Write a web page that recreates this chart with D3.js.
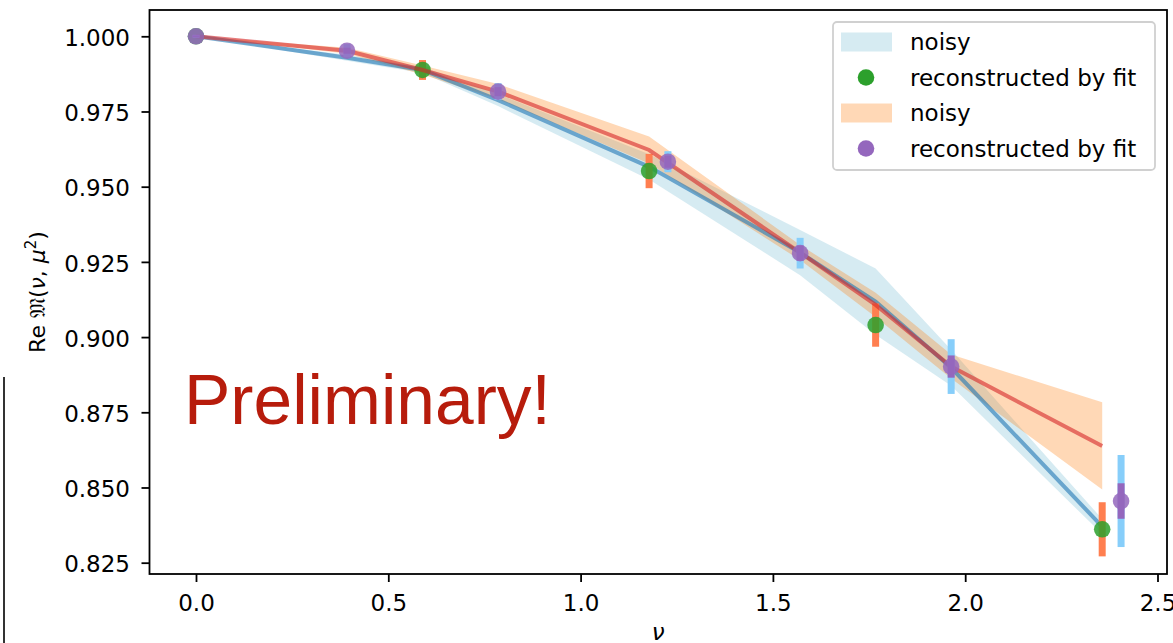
<!DOCTYPE html>
<html>
<head>
<meta charset="utf-8">
<script src="https://cdn.jsdelivr.net/npm/d3@7"></script>
<style>
  body { margin: 0; background: #fff; }
  svg { display: block; }
</style>
</head>
<body>
<svg id="chart" width="1173" height="643"></svg>
<script>
// noisy data: both curves share one nu grid
const nuNoisy = [0, 0.3927, 0.5890, 0.7854, 1.1781, 1.5708, 1.7671, 1.9635, 2.3562];
const noisyA = [1.000, 0.9929, 0.9888, 0.9788, 0.9566, 0.9281, 0.9118, 0.8898, 0.8370];
const noisyAErr = [0, 0.001, 0.001, 0.002, 0.0042, 0.0075, 0.011, 0.006, 0.0025];
const noisyB = [1.000, 0.9952, 0.9888, 0.9816, 0.9622, 0.9281, 0.9107, 0.8902, 0.8638];
const noisyBErr = [0, 0.001, 0.0015, 0.0025, 0.0045, 0.0025, 0.004, 0.004, 0.0145];

// reconstructed by fit
const nuFitA = [0, 0.5890, 1.1781, 1.7671, 2.3562];
const fitA = [1.000, 0.9888, 0.9552, 0.9040, 0.8361];
const fitAErr = [0.0005, 0.0033, 0.0057, 0.0072, 0.0090];

const nuFitB = [0, 0.3927, 0.7854, 1.2270, 1.5708, 1.9635, 2.4053];
const fitB = [1.000, 0.9952, 0.9816, 0.9583, 0.9279, 0.8902, 0.8455];
const fitBErr = [0.0005, 0.0022, 0.0028, 0.0035, 0.0051, 0.0091, 0.0153];
const fitBStat = [0.0003, 0.001, 0.0015, 0.002, 0.0025, 0.0037, 0.0059];

const xTicks = [0.0, 0.5, 1.0, 1.5, 2.0, 2.5];
const yTicks = [0.825, 0.850, 0.875, 0.900, 0.925, 0.950, 0.975, 1.000];
const legendLabels = ["noisy", "reconstructed by fit", "noisy", "reconstructed by fit"];

const svg = d3.select("#chart");
const box = { left: 149.5, right: 1167, top: 10, bottom: 574 };
const font = "'DejaVu Sans', sans-serif";

const x = d3.scaleLinear().domain([-0.1209, 2.5247]).range([box.left, box.right]);
const y = d3.scaleLinear().domain([0.82124, 1.00874]).range([box.bottom, box.top]);

const zip = (xs, ys, es) => xs.map((v, i) => ({ x: v, y: ys[i], e: es ? es[i] : 0 }));

const band = d3.area()
  .x(d => x(d.x))
  .y0(d => y(d.y - d.e))
  .y1(d => y(d.y + d.e));
const line = d3.line().x(d => x(d.x)).y(d => y(d.y));

const plot = svg.append("g");

// bands sit under every line
plot.append("path").datum(zip(nuNoisy, noisyA, noisyAErr))
  .attr("d", band).attr("fill", "#add8e6").attr("fill-opacity", 0.5);
plot.append("path").datum(zip(nuNoisy, noisyB, noisyBErr))
  .attr("d", band).attr("fill", "#ff7f0e").attr("fill-opacity", 0.3);

function errorPoints(data, ecolor, color, stat) {
  const g = plot.append("g");
  g.selectAll("line.err").data(data).join("line")
    .attr("class", "err")
    .attr("x1", d => x(d.x)).attr("x2", d => x(d.x))
    .attr("y1", d => y(d.y - d.e)).attr("y2", d => y(d.y + d.e))
    .attr("stroke", ecolor).attr("stroke-width", 7);
  if (stat) {
    g.selectAll("line.stat").data(stat).join("line")
      .attr("class", "stat")
      .attr("x1", d => x(d.x)).attr("x2", d => x(d.x))
      .attr("y1", d => y(d.y - d.e)).attr("y2", d => y(d.y + d.e))
      .attr("stroke", color).attr("stroke-width", 7);
  }
  g.selectAll("circle").data(data).join("circle")
    .attr("cx", d => x(d.x)).attr("cy", d => y(d.y))
    .attr("r", 8.3).attr("fill", color).attr("fill-opacity", 0.85);
}

plot.append("path").datum(zip(nuNoisy, noisyA))
  .attr("d", line).attr("fill", "none")
  .attr("stroke", "#1f77b4").attr("stroke-opacity", 0.6).attr("stroke-width", 4);
errorPoints(zip(nuFitA, fitA, fitAErr), "#ff7f50", "#2ca02c");

plot.append("path").datum(zip(nuNoisy, noisyB))
  .attr("d", line).attr("fill", "none")
  .attr("stroke", "#d62728").attr("stroke-opacity", 0.6).attr("stroke-width", 4);
errorPoints(zip(nuFitB, fitB, fitBErr), "#87cefa", "#9467bd", zip(nuFitB, fitB, fitBStat));

// axes
const xAxis = svg.append("g")
  .attr("transform", `translate(0,${box.bottom})`)
  .call(d3.axisBottom(x).tickValues(xTicks).tickFormat(d3.format(".1f")).tickSize(8).tickSizeOuter(0));
xAxis.selectAll("text").attr("y", 37).attr("dy", null);

const yAxis = svg.append("g")
  .attr("transform", `translate(${box.left},0)`)
  .call(d3.axisLeft(y).tickValues(yTicks).tickFormat(d3.format(".3f")).tickSize(8).tickPadding(11.5).tickSizeOuter(0));
yAxis.selectAll("text").attr("dy", "0.4em");

svg.selectAll(".domain").remove();
svg.selectAll(".tick line").attr("stroke", "#000").attr("stroke-width", 1.8);
svg.selectAll(".tick text").attr("fill", "#000").style("font-family", font).style("font-size", "23px");

svg.append("rect")
  .attr("x", box.left).attr("y", box.top)
  .attr("width", box.right - box.left).attr("height", box.bottom - box.top)
  .attr("fill", "none").attr("stroke", "#000").attr("stroke-width", 1.8);

// axis labels
const yl = svg.append("text")
  .attr("transform", `translate(45,${(box.top + box.bottom) / 2}) rotate(-90)`)
  .attr("text-anchor", "middle")
  .style("font-family", font).style("font-size", "22px");
yl.append("tspan").text("Re ");
yl.append("tspan").style("font-family", "'DejaVu Serif', 'DejaVu Sans', serif").text("\u{1D510}");
yl.append("tspan").text("(");
yl.append("tspan").style("font-style", "italic").text("\u03bd");
yl.append("tspan").text(", ");
yl.append("tspan").style("font-style", "italic").text("\u03bc");
yl.append("tspan").attr("dy", -9).style("font-size", "15px").text("2");
yl.append("tspan").attr("dy", 9).text(")");

svg.append("text")
  .attr("x", (box.left + box.right) / 2).attr("y", 640)
  .attr("text-anchor", "middle")
  .style("font-family", font).style("font-size", "23px").style("font-style", "italic")
  .text("\u03bd");

// watermark
svg.append("text")
  .attr("x", 184).attr("y", 424)
  .style("font-family", "'Liberation Sans', Arial, sans-serif").style("font-size", "69.5px")
  .attr("fill", "#b71c0c")
  .text("Preliminary!");

// legend
const lg = svg.append("g").attr("transform", "translate(833,22)");
lg.append("rect")
  .attr("width", 322).attr("height", 148).attr("rx", 4)
  .attr("fill", "#fff").attr("fill-opacity", 0.8)
  .attr("stroke", "#d0d0d0").attr("stroke-width", 1.8);
const legendItems = [
  { kind: "patch", color: "#add8e6", op: 0.5 },
  { kind: "dot", color: "#2ca02c" },
  { kind: "patch", color: "#ff7f0e", op: 0.3 },
  { kind: "dot", color: "#9467bd" }
];
legendItems.forEach((it, i) => {
  const cy = 20 + i * 35.5;
  if (it.kind === "patch") {
    lg.append("rect").attr("x", 8).attr("y", cy - 9.5).attr("width", 51).attr("height", 19)
      .attr("fill", it.color).attr("fill-opacity", it.op);
  } else {
    lg.append("circle").attr("cx", 33).attr("cy", cy).attr("r", 8.3).attr("fill", it.color);
  }
  lg.append("text").attr("x", 77).attr("y", cy).attr("dy", "0.36em")
    .style("font-family", font).style("font-size", "23px")
    .text(legendLabels[i]);
});

// edge of the neighbouring figure on the left
svg.append("line")
  .attr("x1", 4).attr("x2", 4).attr("y1", 377).attr("y2", 643)
  .attr("stroke", "#333").attr("stroke-width", 2);
</script>
</body>
</html>
